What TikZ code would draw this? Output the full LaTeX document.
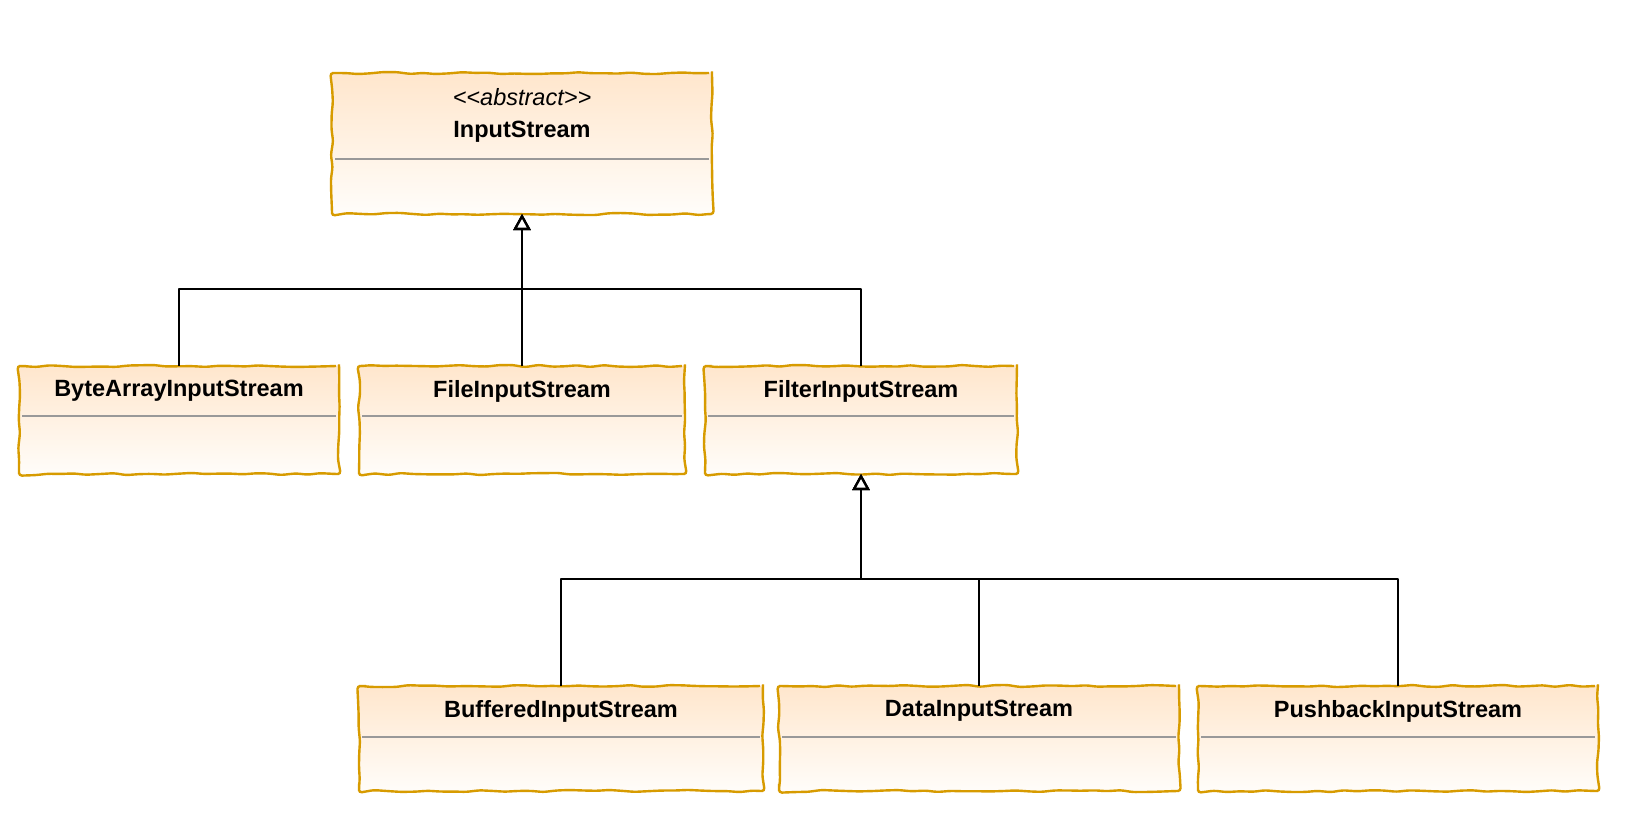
\documentclass[tikz,border=0pt]{standalone}
\usepackage{fontspec}
\setmainfont{Liberation Sans}
\usetikzlibrary{arrows.meta,calc,decorations.pathmorphing}
\definecolor{boxline}{HTML}{D79B00}
\definecolor{boxtop}{HTML}{FFE6CC}
\definecolor{boxbot}{HTML}{FFFDFA}
\definecolor{sepgray}{HTML}{999999}
\begin{document}
\begin{tikzpicture}[x=1pt,y=-1pt,
  cls/.style={draw=boxline, line width=2.4pt, top color=boxtop, bottom color=boxbot,
    inner sep=0pt, outer sep=0pt, rounded corners=3pt,
    decoration={random steps, segment length=13pt, amplitude=1.1pt}, decorate},
  ttl/.style={font=\fontsize{23.5}{28}\selectfont\bfseries, inner sep=0pt},
  stereo/.style={font=\fontsize{23.5}{28}\selectfont\itshape, inner sep=0pt},
  sep/.style={draw=sepgray, line width=2pt},
  conn/.style={draw=black, line width=2.3pt, line join=round},
  gen/.style={-{Triangle[open,length=16pt,width=17pt,fill=white]}}
]
\pgfmathsetseed{7}
\useasboundingbox (0,0) rectangle (1632,812);

% top class
\node[cls, minimum width=380pt, minimum height=141pt] (input) at (522,143.5) {};
\node[stereo] (inputst) at ($(input.north)+(0,24)$) {<{}<abstract>{}>};
\node[ttl] (inputt) at ($(input.north)+(0,59)$) {InputStream};
\draw[sep] ($(input.north west)+(3,86)$) -- ($(input.north east)+(-3,86)$);

% second level
\node[cls, minimum width=320pt, minimum height=108pt] (ba) at (179,420) {};
\node[ttl] (bat) at ($(ba.north)+(0,25)$) {ByteArrayInputStream};
\draw[sep] ($(ba.north west)+(3,50)$) -- ($(ba.north east)+(-3,50)$);

\node[cls, minimum width=326pt, minimum height=108pt] (file) at (522,420) {};
\node[ttl] (filet) at ($(file.north)+(0,25)$) {FileInputStream};
\draw[sep] ($(file.north west)+(3,50)$) -- ($(file.north east)+(-3,50)$);

\node[cls, minimum width=312pt, minimum height=108pt] (filter) at (861,420) {};
\node[ttl] (filtert) at ($(filter.north)+(0,25)$) {FilterInputStream};
\draw[sep] ($(filter.north west)+(3,50)$) -- ($(filter.north east)+(-3,50)$);

% third level
\node[cls, minimum width=404pt, minimum height=105pt] (buf) at (561,738.5) {};
\node[ttl] (buft) at ($(buf.north)+(0,25)$) {BufferedInputStream};
\draw[sep] ($(buf.north west)+(3,51)$) -- ($(buf.north east)+(-3,51)$);

\node[cls, minimum width=400pt, minimum height=105pt] (data) at (979,738.5) {};
\node[ttl] (datat) at ($(data.north)+(0,25)$) {DataInputStream};
\draw[sep] ($(data.north west)+(3,51)$) -- ($(data.north east)+(-3,51)$);

\node[cls, minimum width=400pt, minimum height=105pt] (push) at (1398,738.5) {};
\node[ttl] (pusht) at ($(push.north)+(0,25)$) {PushbackInputStream};
\draw[sep] ($(push.north west)+(3,51)$) -- ($(push.north east)+(-3,51)$);

% junctions
\coordinate (j1) at (522,289);
\coordinate (j2) at (861,579);

% generalization connectors
\draw[conn, gen] (ba.north) |- (j1) -- (input.south);
\draw[conn, gen] (file.north) -- (j1) -- (input.south);
\draw[conn, gen] (filter.north) |- (j1) -- (input.south);

\draw[conn, gen] (buf.north) |- (j2) -- (filter.south);
\draw[conn, gen] (data.north) |- (j2) -- (filter.south);
\draw[conn, gen] (push.north) |- (j2) -- (filter.south);
\end{tikzpicture}
\end{document}
